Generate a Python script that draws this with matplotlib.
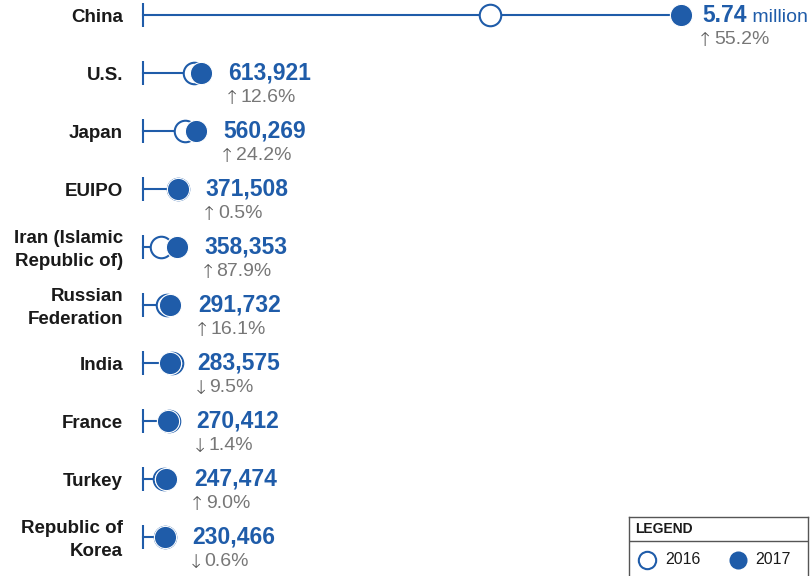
import matplotlib.pyplot as plt

countries = ["China", "U.S.", "Japan", "EUIPO", "Iran (Islamic\nRepublic of)",
             "Russian\nFederation", "India", "France", "Turkey", "Republic of\nKorea"]
apps_2016 = [3700000, 545200, 451100, 369700, 190700, 251300, 313300, 274300, 227000, 231800]
apps_2017 = [5740000, 613921, 560269, 371508, 358353, 291732, 283575, 270412, 247474, 230466]
value_labels = ["5.74", "613,921", "560,269", "371,508", "358,353",
                "291,732", "283,575", "270,412", "247,474", "230,466"]
change_dirs = ["↑", "↑", "↑", "↑", "↑", "↑", "↓", "↓", "↑", "↓"]
change_labels = ["55.2%", "12.6%", "24.2%", "0.5%", "87.9%",
                 "16.1%", "9.5%", "1.4%", "9.0%", "0.6%"]

BLUE = "#1f5ca9"
GREY = "#777777"
TEXT = "#1a1a1a"

plt.rcParams["font.family"] = ["Liberation Sans", "DejaVu Sans"]

fig = plt.figure(figsize=(8.11, 5.76), dpi=100)
ax = fig.add_axes([0, 0, 1, 1])
# 0 sits at 143px, 93.73px per million; rows every 58px, first at 15px
ax.set_xlim(-143 / 93.73e-6, 668 / 93.73e-6)
ax.set_ylim(561 / 58, -15 / 58)
ax.axis("off")

rows = list(range(len(countries)))
ax.vlines([0] * len(rows), [r - 0.207 for r in rows], [r + 0.207 for r in rows],
          color=BLUE, lw=1.5, zorder=1)
for i in rows:
    end = max(apps_2016[i], apps_2017[i])
    ax.plot([0, end], [i, i], color=BLUE, lw=1.5, zorder=1)

ax.plot(apps_2016, rows, ls="none", marker="o", ms=15.5, mfc="white",
        mec=BLUE, mew=1.5, zorder=2)
ax.plot(apps_2017, rows, ls="none", marker="o", ms=16, mfc=BLUE,
        mec="white", mew=0.8, zorder=3)

for i in rows:
    ax.annotate(countries[i], (0, i), xytext=(-20, -3), textcoords="offset pixels",
                ha="right", va="center", fontsize=13.5, fontweight="bold",
                color=TEXT, linespacing=1.4)
    dx = 21 if i == 0 else 28
    t = ax.annotate(value_labels[i], (apps_2017[i], i), xytext=(dx, 0),
                    textcoords="offset pixels", ha="left", va="center",
                    fontsize=16.5, fontweight="bold", color=BLUE)
    ax.annotate(change_dirs[i], (apps_2017[i], i), xytext=(dx - 5, -25),
                textcoords="offset pixels", ha="left", va="center",
                fontsize=14, color="#555555", family="DejaVu Sans",
                fontweight="light")
    ax.annotate(change_labels[i], (apps_2017[i], i), xytext=(dx + 12, -24),
                textcoords="offset pixels", ha="left", va="center",
                fontsize=14, color=GREY)
    if i == 0:
        ax.annotate(" million", (1, 0), xycoords=t, ha="left", va="bottom",
                    fontsize=14, color=BLUE)

# legend box
lax = fig.add_axes([629 / 811, -0.03, (808 - 629) / 811, (576 - 517) / 576 + 0.03])
lax.set_xlim(629, 808)
lax.set_ylim(576 + 0.03 * 576, 517)
lax.set_xticks([])
lax.set_yticks([])
for s in lax.spines.values():
    s.set_color("#555555")
    s.set_linewidth(1)
lax.axhline(541, color="#555555", lw=1)
lax.text(635, 529, "LEGEND", fontsize=10, fontweight="bold", color=TEXT,
         ha="left", va="center")
lax.plot([647], [560], marker="o", ms=12.5, mfc="white", mec=BLUE, mew=1.5)
lax.text(665, 560, "2016", fontsize=11.5, color=TEXT, ha="left", va="center")
lax.plot([738], [560], marker="o", ms=13, mfc=BLUE, mec=BLUE, mew=0)
lax.text(755, 560, "2017", fontsize=11.5, color=TEXT, ha="left", va="center")

fig.savefig("out.png", dpi=100)
